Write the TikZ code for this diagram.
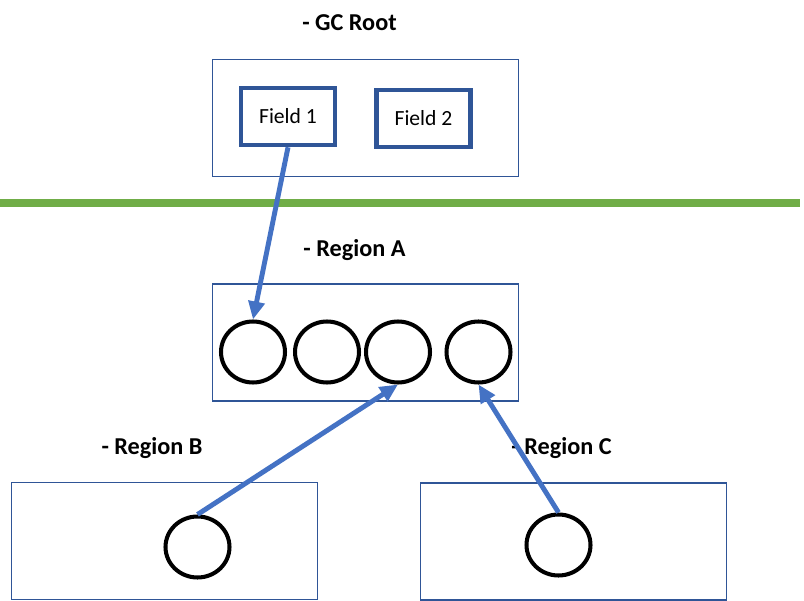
\documentclass[tikz,border=0pt]{standalone}
\usepackage{fontspec}
\setmainfont{Carlito}
\usetikzlibrary{arrows.meta, shapes.geometric}

\definecolor{boxblue}{HTML}{2F5597}
\definecolor{refblue}{HTML}{4472C4}
\definecolor{sepgreen}{HTML}{70AD47}

\begin{document}
\begin{tikzpicture}[
  x=0.02cm, y=-0.02cm,
  >={Triangle[length=0.36cm, width=0.32cm]},
  region/.style={draw=boxblue, line width=0.9pt, inner sep=0pt,
    minimum width=6.12cm, minimum height=2.34cm},
  field/.style={draw=boxblue, line width=2.6pt, inner sep=0pt,
    minimum width=1.88cm, minimum height=1.14cm,
    font=\fontsize{12.3}{14}\selectfont},
  obj/.style={ellipse, draw=black, line width=2.3pt, inner sep=0pt,
    minimum width=1.28cm, minimum height=1.22cm},
  heading/.style={font=\fontsize{13.8}{16}\selectfont\bfseries, anchor=base},
  ref/.style={->, draw=refblue, line width=2.8pt},
]
\useasboundingbox (0,0) rectangle (804,601);

% === GC root (top) ===
\node[heading] (gclbl) at (349.5, 31) {- GC Root};
\node[region] (gc) at (365.5, 118) {};
\node[field] (f1) at (288, 116.5) {Field 1};
\node[field] (f2) at (423.5, 118.5) {Field 2};

% Separator
\draw[sepgreen, line width=4.5pt] (0, 203) -- (800, 203);

% === Region A ===
\node[heading] (alb) at (354.5, 256) {- Region A};
\node[region] (ra) at (365.5, 342.5) {};
\node[obj] (a1) at (253, 352) {};
\node[obj] (a2) at (327, 352) {};
\node[obj] (a3) at (398, 352) {};
\node[obj] (a4) at (478.5, 352) {};

% === Region B ===
\node[heading] (blb) at (152, 454) {- Region B};
\node[region] (rb) at (164.5, 541) {};
\node[obj] (b1) at (197.5, 547) {};

% === Region C ===
\node[heading] (clb) at (561.5, 454) {- Region C};
\node[region] (rc) at (573.5, 541.5) {};
\node[obj] (c1) at (558.5, 545) {};

% References
\draw[ref] (f1.south) -- (a1.north);
\draw[ref] (b1.north) -- (a3.south);
\draw[ref] (c1.north) -- (a4.south);

\end{tikzpicture}
\end{document}
